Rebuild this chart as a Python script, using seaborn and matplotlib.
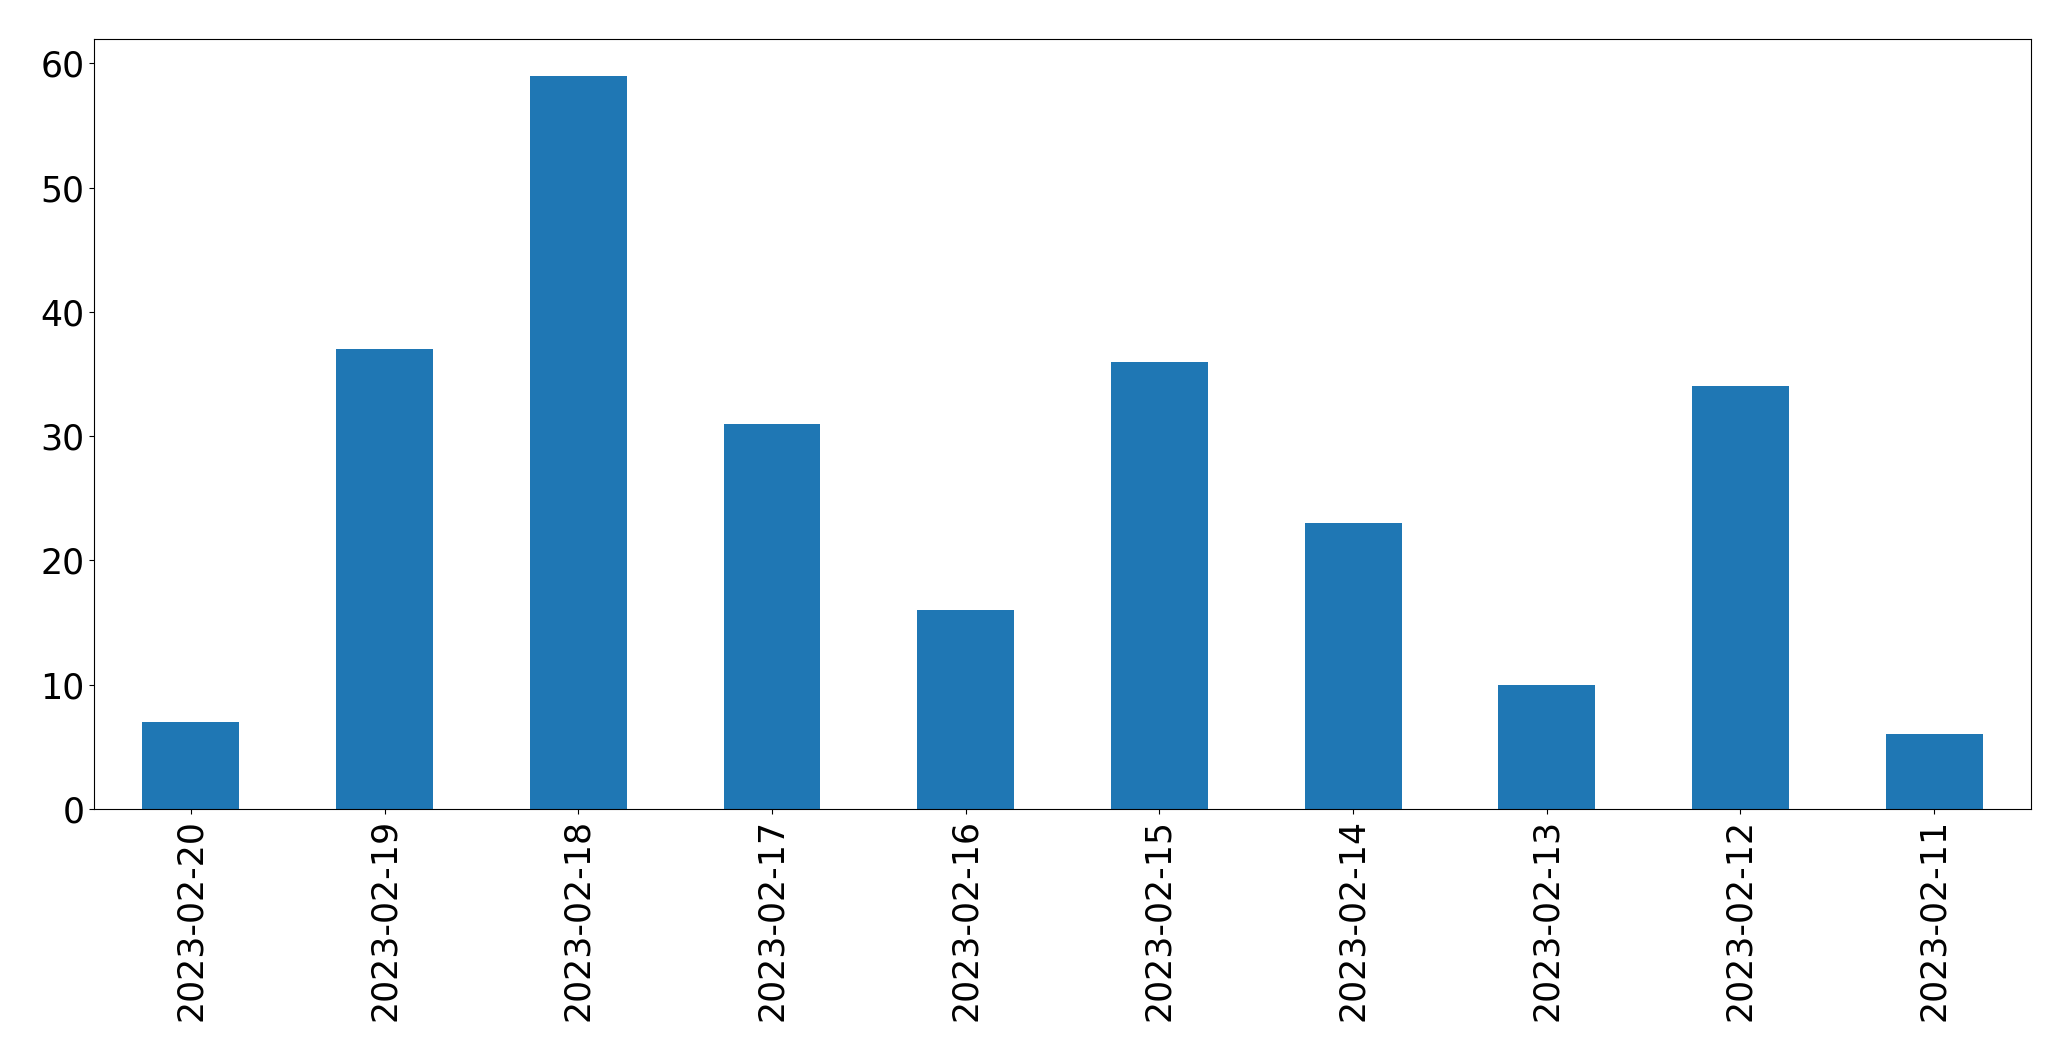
import pandas as pd
import seaborn as sns
import matplotlib.pyplot as plt

# Daily counts, newest first (as in the original)
dates = ["2023-02-20", "2023-02-19", "2023-02-18", "2023-02-17", "2023-02-16",
         "2023-02-15", "2023-02-14", "2023-02-13", "2023-02-12", "2023-02-11"]
counts = [7, 37, 59, 31, 16, 36, 23, 10, 34, 6]

df = pd.DataFrame({"date": dates, "count": counts})

fig = plt.figure(figsize=(20.71, 10.61), dpi=100)
ax = fig.add_axes([0.0454, 0.2375, 0.9353, 0.7257])

sns.barplot(data=df, x="date", y="count", order=dates, color="#1f77b4",
            saturation=1, width=0.5, linewidth=0, ax=ax)

ax.set_xlim(-0.5, len(dates) - 0.5)
ax.set_ylim(0, max(counts) * 1.05)
ax.set_xlabel("")
ax.set_ylabel("")
ax.tick_params(axis="both", labelsize=25)
plt.xticks(rotation=90)

fig.savefig("out.png", dpi=100)
